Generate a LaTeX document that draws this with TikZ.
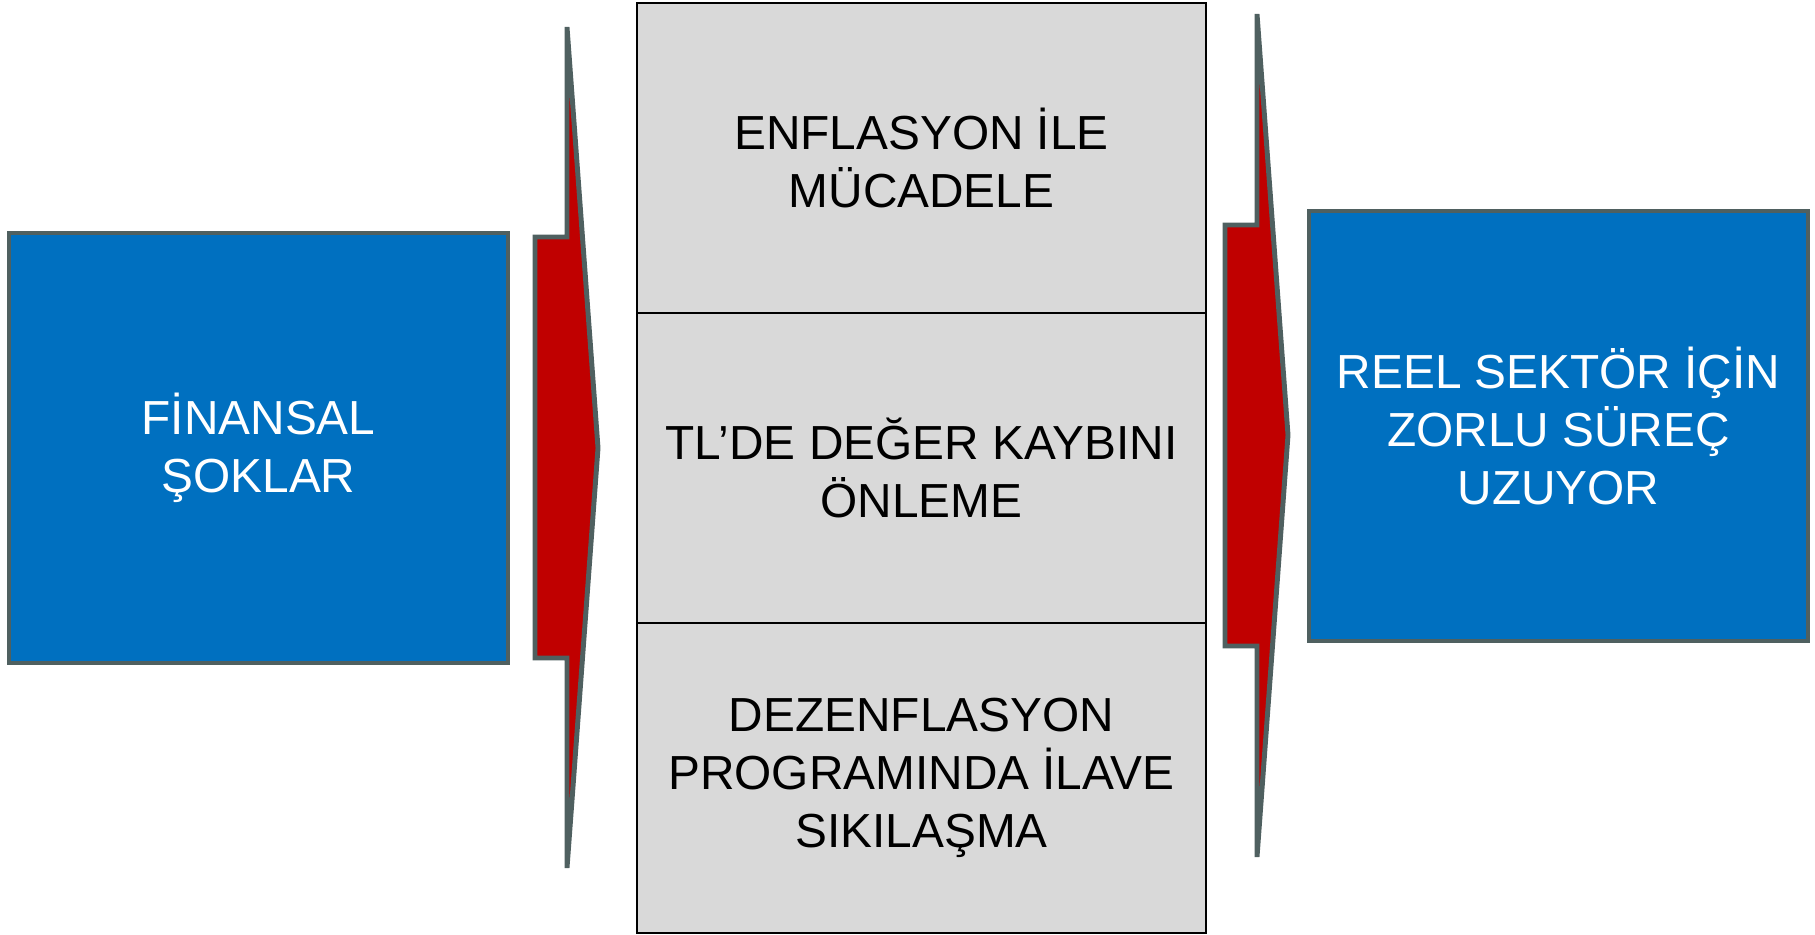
\documentclass[tikz,border=0pt]{standalone}
\usepackage{fontspec}
\setmainfont{Liberation Sans}
\usepackage{tikz}
\usetikzlibrary{positioning}
\definecolor{boxblue}{HTML}{0070C0}
\definecolor{arrowred}{HTML}{C00000}
\definecolor{edgegray}{HTML}{4F6060}
\definecolor{cellgray}{HTML}{D9D9D9}
\tikzstyle{bluebox} = [draw=edgegray, fill=boxblue, line width=1.4pt, text=white, align=center, minimum width=4.99cm, minimum height=4.30cm, inner sep=0pt]
\tikzstyle{cell} = [draw=black, fill=cellgray, line width=0.8pt, align=center, minimum width=5.69cm, minimum height=3.10cm, inner sep=0pt, outer sep=0pt]
\tikzstyle{chevron} = [draw=edgegray, fill=arrowred, line width=1.4pt]
\newcommand{\boxfont}{\fontsize{13.6}{16.6}\selectfont}

\begin{document}
\begin{tikzpicture}[font=\boxfont]
                    \useasboundingbox (0, 0) rectangle (18.15, -9.35);
                    \node[bluebox] (shocks) at (2.585, -4.48) {FİNANSAL\\ŞOKLAR};
                    \filldraw[chevron] (5.67, -0.27) -- (5.98, -4.48) -- (5.67, -8.68) -- (5.67, -6.58) -- (5.35, -6.58) -- (5.35, -2.37) -- (5.67, -2.37) -- cycle;
                    \node[cell, anchor=north] (inflation) at (9.215, -0.03) {ENFLASYON İLE\\MÜCADELE};
                    \node[cell, below=0cm of inflation] (lira) {TL’DE DEĞER KAYBINI\\ÖNLEME};
                    \node[cell, below=0cm of lira] (tightening) {DEZENFLASYON\\PROGRAMINDA İLAVE\\SIKILAŞMA};
                    \filldraw[chevron] (12.57, -0.14) -- (12.88, -4.35) -- (12.57, -8.57) -- (12.57, -6.46) -- (12.25, -6.46) -- (12.25, -2.25) -- (12.57, -2.25) -- cycle;
                    \node[bluebox] (realsector) at (15.585, -4.26) {REEL SEKTÖR İÇİN\\ZORLU SÜREÇ\\UZUYOR};
                \end{tikzpicture}
\end{document}
